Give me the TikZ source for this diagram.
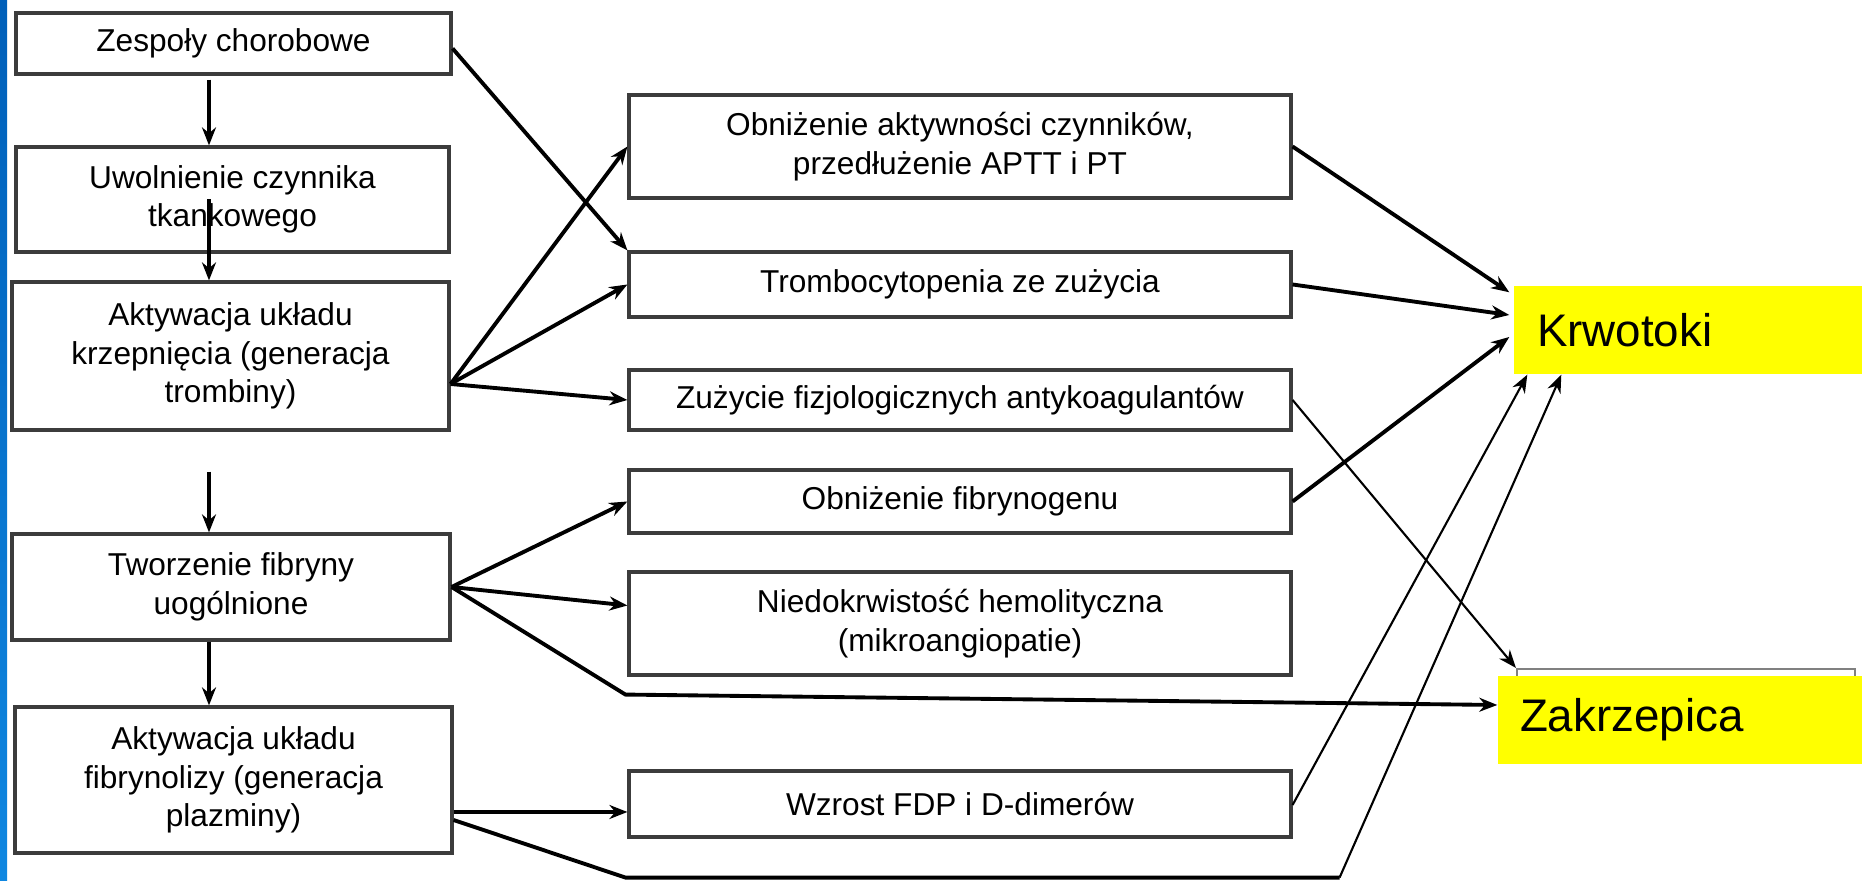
\documentclass[tikz,border=0pt]{standalone}
\usepackage{fontspec}
\setmainfont{Liberation Sans}
\usepackage{xcolor}
\usepackage{tikz}
\usetikzlibrary{arrows.meta,positioning,calc}
\definecolor{slideBlueTop}{RGB}{0,95,185}
\definecolor{slideBlueBot}{RGB}{15,135,225}
\definecolor{boxGray}{RGB}{60,60,60}
\definecolor{hiYellow}{RGB}{255,255,0}

\begin{document}
\begin{tikzpicture}[
    x=0.1mm, y=-0.1mm,
    box/.style={rectangle, draw=boxGray, line width=0.9pt, align=center, inner sep=0pt, font=\fontsize{9}{11}\selectfont},
    result/.style={rectangle, fill=hiYellow, align=left, inner ysep=0pt, font=\fontsize{13}{15}\selectfont},
    arrow/.style={-{Stealth[length=1.8mm,width=1.4mm]}, line width=1.1pt},
    thinarrow/.style={-{Stealth[length=1.8mm,width=1.4mm]}, line width=0.6pt}
]
    \useasboundingbox (0,0) rectangle (1862,881);
    \shade[top color=slideBlueTop, bottom color=slideBlueBot] (0,0) rectangle (7,881);

    % Left column
    \node[box, minimum width=43.5mm, minimum height=6.1mm] (zespoly) at (233.5,43.5) {Zespoły chorobowe};
    \node[box, minimum width=43.3mm, minimum height=10.5mm] (uwolnienie) at (232.5,199.5) {Uwolnienie czynnika\\tkankowego};
    \node[box, minimum width=43.7mm, minimum height=14.8mm] (krzep) at (230.5,356) {Aktywacja układu\\krzepnięcia (generacja\\trombiny)};
    \node[box, minimum width=43.8mm, minimum height=10.6mm] (fibryna) at (231,587) {Tworzenie fibryny\\uogólnione};
    \node[box, minimum width=43.7mm, minimum height=14.6mm] (fibrynoliza) at (233.5,780) {Aktywacja układu\\fibrynolizy (generacja\\plazminy)};

    % Middle column
    \node[box, minimum width=66.2mm, minimum height=10.3mm] (czynniki) at (960,146.5) {Obniżenie aktywności czynników,\\przedłużenie APTT i PT};
    \node[box, minimum width=66.2mm, minimum height=6.5mm] (trombo) at (960,284.5) {Trombocytopenia ze zużycia};
    \node[box, minimum width=66.2mm, minimum height=6mm] (antykoag) at (960,400) {Zużycie fizjologicznych antykoagulantów};
    \node[box, minimum width=66.2mm, minimum height=6.3mm] (fibrynogen) at (960,501.5) {Obniżenie fibrynogenu};
    \node[box, minimum width=66.2mm, minimum height=10.3mm] (niedokr) at (960,623.5) {Niedokrwistość hemolityczna\\(mikroangiopatie)};
    \node[box, minimum width=66.2mm, minimum height=6.6mm] (fdp) at (960,804) {Wzrost FDP i D-dimerów};

    % Outcomes
    \node[draw=gray, line width=0.6pt, minimum width=33.8mm, minimum height=7mm, inner sep=0pt] (zbg) at (1686,704) {};
    \node[result, text width=30.2mm, inner xsep=2.3mm, minimum height=8.8mm] (krwotoki) at (1688,330) {Krwotoki};
    \node[result, text width=32mm, inner xsep=2.2mm, minimum height=8.8mm] (zakrzepica) at (1680,720) {Zakrzepica};

    % Vertical arrows
    \draw[arrow] ($(zespoly.south)+(-24.5,4)$) -- ($(uwolnienie.north)+(-23.5,0)$);
    \draw[arrow] ($(uwolnienie.center)+(-23.5,0)$) -- ($(krzep.north)+(-21.5,0)$);
    \draw[arrow] ($(krzep.south)+(-21.5,40)$) -- ($(fibryna.north)+(-22,0)$);
    \draw[arrow] ($(fibryna.south)+(-22,0)$) -- ($(fibrynoliza.north)+(-24.5,0)$);

    % Left to middle
    \coordinate (krzepout) at ($(krzep.east)+(0,28)$);
    \draw[arrow] ($(zespoly.east)+(0,5)$) -- (trombo.north west);
    \draw[arrow] (krzepout) -- (czynniki.west);
    \draw[arrow] (krzepout) -- (trombo.west);
    \draw[arrow] (krzepout) -- (antykoag.west);
    \draw[arrow] (fibryna.east) -- (fibrynogen.west);
    \draw[arrow] (fibryna.east) -- ($(niedokr.west)+(0,-18)$);
    \draw[arrow] (fibryna.east) -- ($(niedokr.south west)+(-2,18)$) -- ($(zakrzepica.west)+(0,-15)$);
    \draw[arrow] ($(fibrynoliza.east)+(0,32)$) -- ($(fdp.west)+(0,8)$);
    \coordinate (dol1) at ($(fdp.south west)+(-2,39)$);
    \coordinate (dol2) at ($(fdp.south east)+(47,39)$);
    \draw[line width=1.1pt] ($(fibrynoliza.east)+(0,40)$) -- (dol1) -- (dol2);
    \draw[thinarrow] (dol2) -- ($(krwotoki.south west)+(48,0)$);

    % Middle to outcomes
    \draw[arrow] (czynniki.east) -- ($(krwotoki.north west)+(-4,7)$);
    \draw[arrow] (trombo.east) -- ($(krwotoki.west)+(-4,-15)$);
    \draw[arrow] (fibrynogen.east) -- ($(krwotoki.west)+(-4,7)$);
    \draw[thinarrow] (antykoag.east) -- (zbg.north west);
    \draw[thinarrow] ($(fdp.east)+(0,1)$) -- ($(krwotoki.south west)+(14,0)$);
\end{tikzpicture}
\end{document}
